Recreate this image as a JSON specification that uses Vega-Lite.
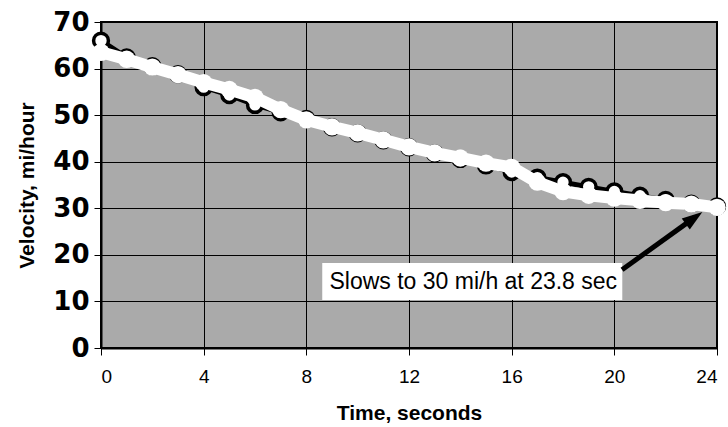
{
  "$schema": "https://vega.github.io/schema/vega-lite/v6.json",
  "width": 616,
  "height": 326,
  "autosize": "none",
  "padding": {"left": 101, "top": 22, "right": 11, "bottom": 79},
  "background": "white",
  "config": {
    "view": {"fill": "#aaaaaa", "stroke": "black", "strokeWidth": 2},
    "font": "Liberation Sans"
  },
  "datasets": {
    "velocity": [
      {"t": 0, "v": 66, "series": "measured"},
      {"t": 1, "v": 62.4, "series": "measured"},
      {"t": 2, "v": 60.5, "series": "measured"},
      {"t": 3, "v": 58.8, "series": "measured"},
      {"t": 4, "v": 56, "series": "measured"},
      {"t": 5, "v": 54.3, "series": "measured"},
      {"t": 6, "v": 52.2, "series": "measured"},
      {"t": 7, "v": 50.6, "series": "measured"},
      {"t": 8, "v": 49.2, "series": "measured"},
      {"t": 9, "v": 47.4, "series": "measured"},
      {"t": 10, "v": 46.1, "series": "measured"},
      {"t": 11, "v": 44.6, "series": "measured"},
      {"t": 12, "v": 43.1, "series": "measured"},
      {"t": 13, "v": 41.8, "series": "measured"},
      {"t": 14, "v": 40.6, "series": "measured"},
      {"t": 15, "v": 39.2, "series": "measured"},
      {"t": 16, "v": 37.8, "series": "measured"},
      {"t": 17, "v": 36.6, "series": "measured"},
      {"t": 18, "v": 35.6, "series": "measured"},
      {"t": 19, "v": 34.6, "series": "measured"},
      {"t": 20, "v": 33.6, "series": "measured"},
      {"t": 21, "v": 32.7, "series": "measured"},
      {"t": 22, "v": 31.8, "series": "measured"},
      {"t": 23, "v": 31, "series": "measured"},
      {"t": 24, "v": 30.4, "series": "measured"},
      {"t": 0, "v": 63.5, "series": "fit"},
      {"t": 1, "v": 62, "series": "fit"},
      {"t": 2, "v": 60.3, "series": "fit"},
      {"t": 3, "v": 58.7, "series": "fit"},
      {"t": 4, "v": 57, "series": "fit"},
      {"t": 5, "v": 55.5, "series": "fit"},
      {"t": 6, "v": 53.8, "series": "fit"},
      {"t": 7, "v": 51.2, "series": "fit"},
      {"t": 8, "v": 49, "series": "fit"},
      {"t": 9, "v": 47.5, "series": "fit"},
      {"t": 10, "v": 46.2, "series": "fit"},
      {"t": 11, "v": 44.7, "series": "fit"},
      {"t": 12, "v": 43.2, "series": "fit"},
      {"t": 13, "v": 41.9, "series": "fit"},
      {"t": 14, "v": 40.8, "series": "fit"},
      {"t": 15, "v": 39.7, "series": "fit"},
      {"t": 16, "v": 38.8, "series": "fit"},
      {"t": 17, "v": 35.6, "series": "fit"},
      {"t": 18, "v": 33.6, "series": "fit"},
      {"t": 19, "v": 32.8, "series": "fit"},
      {"t": 20, "v": 32.2, "series": "fit"},
      {"t": 21, "v": 31.7, "series": "fit"},
      {"t": 22, "v": 31.2, "series": "fit"},
      {"t": 23, "v": 30.9, "series": "fit"},
      {"t": 24, "v": 30.2, "series": "fit"}
    ],
    "note": [
      {"label": "Slows to 30 mi/h at 23.8 sec", "x1": 8.62, "x2": 20.31, "y1": 18.25, "y2": 10.3, "tx": 8.9, "ty": 14.2, "ax": 20.3, "ay": 16.8, "bx": 23.12, "by": 28.0, "hx": 23.43, "hy": 29.2}
    ]
  },
  "encoding": {
    "x": {
      "field": "t", "type": "quantitative",
      "scale": {"domain": [0, 24], "nice": false, "zero": false},
      "axis": {
        "values": [0, 4, 8, 12, 16, 20, 24],
        "title": "Time, seconds",
        "grid": true, "gridColor": "black", "gridWidth": 1, "gridOpacity": 1,
        "domainColor": "black", "domainWidth": 2,
        "tickColor": "black", "tickSize": 7, "tickWidth": 1,
        "labelFont": "Liberation Sans", "labelFontSize": 19, "labelColor": "black", "labelPadding": 12,
        "titleFont": "Liberation Sans", "titleFontSize": 21, "titleFontWeight": "bold", "titleColor": "black", "titlePadding": 16
      }
    },
    "y": {
      "field": "v", "type": "quantitative",
      "scale": {"domain": [0, 70], "nice": false},
      "axis": {
        "values": [0, 10, 20, 30, 40, 50, 60, 70],
        "title": "Velocity, mi/hour",
        "grid": true, "gridColor": "black", "gridWidth": 1, "gridOpacity": 1,
        "domainColor": "black", "domainWidth": 2,
        "tickColor": "black", "tickSize": 7, "tickWidth": 1,
        "labelFont": "DejaVu Sans", "labelFontSize": 26, "labelFontWeight": "bold", "labelColor": "black", "labelPadding": 5,
        "titleFont": "Liberation Sans", "titleFontSize": 21, "titleFontWeight": "bold", "titleColor": "black", "titlePadding": 15
      }
    }
  },
  "layer": [
    {
      "data": {"name": "velocity"},
      "transform": [{"filter": "datum.series === 'measured'"}],
      "mark": {"type": "line", "color": "black", "strokeWidth": 5},
      "encoding": {"order": {"field": "t"}}
    },
    {
      "data": {"name": "velocity"},
      "transform": [{"filter": "datum.series === 'measured'"}],
      "mark": {"type": "point", "shape": "circle", "filled": true, "fill": "white", "stroke": "black", "strokeWidth": 3.5, "size": 220, "opacity": 1}
    },
    {
      "data": {"name": "velocity"},
      "transform": [{"filter": "datum.series === 'fit'"}],
      "mark": {"type": "line", "color": "white", "strokeWidth": 12},
      "encoding": {"order": {"field": "t"}}
    },
    {
      "data": {"name": "velocity"},
      "transform": [{"filter": "datum.series === 'fit'"}],
      "mark": {"type": "point", "shape": "circle", "filled": true, "fill": "white", "strokeWidth": 0, "size": 300, "opacity": 1}
    },
    {
      "data": {"name": "note"},
      "mark": {"type": "rect", "fill": "white", "stroke": null},
      "encoding": {
        "x": {"field": "x1", "type": "quantitative"},
        "x2": {"field": "x2"},
        "y": {"field": "y1", "type": "quantitative"},
        "y2": {"field": "y2"}
      }
    },
    {
      "data": {"name": "note"},
      "mark": {"type": "text", "align": "left", "baseline": "middle", "font": "Liberation Sans", "fontSize": 23, "color": "black"},
      "encoding": {
        "x": {"field": "tx", "type": "quantitative"},
        "y": {"field": "ty", "type": "quantitative"},
        "text": {"field": "label"}
      }
    },
    {
      "data": {"name": "note"},
      "mark": {"type": "rule", "color": "black", "strokeWidth": 5},
      "encoding": {
        "x": {"field": "ax", "type": "quantitative"},
        "y": {"field": "ay", "type": "quantitative"},
        "x2": {"field": "bx"},
        "y2": {"field": "by"}
      }
    },
    {
      "data": {"name": "note"},
      "mark": {"type": "point", "shape": "M0,0 L-0.6,1.8 L0.6,1.8 Z", "filled": true, "fill": "black", "strokeWidth": 0, "size": 520, "angle": 54, "opacity": 1},
      "encoding": {
        "x": {"field": "hx", "type": "quantitative"},
        "y": {"field": "hy", "type": "quantitative"}
      }
    }
  ]
}
